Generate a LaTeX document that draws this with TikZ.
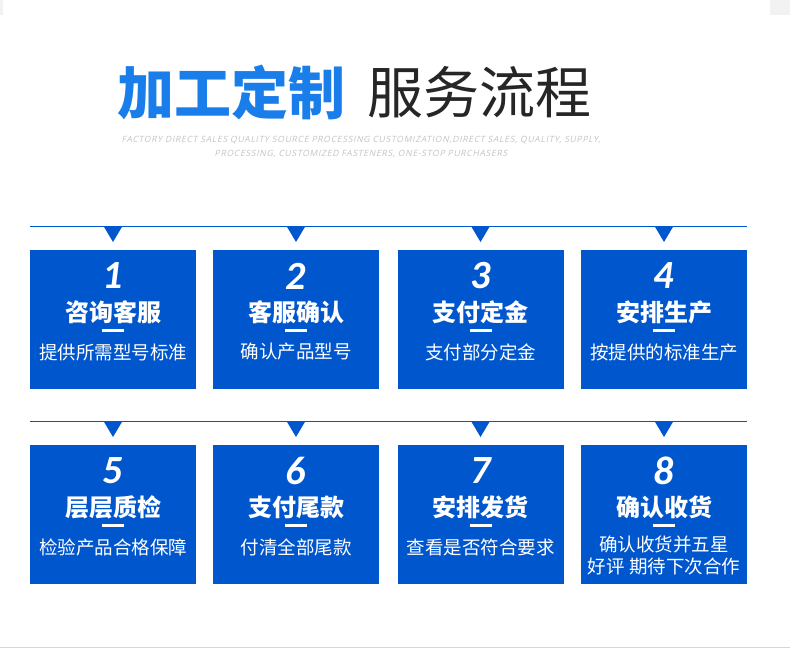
\documentclass[tikz,border=0pt]{standalone}
\usepackage{fontspec}
\newfontfamily\cjk{Noto Sans CJK SC}
\newfontfamily\digitfont{Carlito}
\newfontfamily\engfont{Open Sans}[FakeSlant=0.22,LetterSpace=8]
\definecolor{boxblue}{HTML}{0056CC}
\definecolor{titleblue}{HTML}{1A7EEA}
\definecolor{titledark}{HTML}{262626}
\definecolor{enggray}{HTML}{C4C4C4}
\definecolor{cornergray}{HTML}{F2F2F2}
\definecolor{bottomline}{HTML}{D0D8E4}
\tikzset{
  stepbox/.style={fill=boxblue, minimum width=166pt, minimum height=139pt, inner sep=0pt, anchor=north},
  numtext/.style={text=white, font=\digitfont\bfseries\itshape\fontsize{40}{40}\selectfont, inner sep=0pt},
  headtext/.style={text=white, font=\cjk\bfseries\fontsize{24}{24}\selectfont, inner sep=0pt},
  subtext/.style={text=white, font=\cjk\fontsize{18.5}{22}\selectfont, inner sep=0pt, align=center},
  dashbar/.style={white, line width=3pt},
  rowline/.style={boxblue, line width=1.2pt},
  marker/.style={fill=boxblue}
}
\begin{document}
\begin{tikzpicture}[x=1pt,y=-1pt]
\useasboundingbox (0,0) rectangle (790,648);
\fill[white] (0,0) rectangle (790,648);
\fill[cornergray] (0,0) rectangle (3,15);
\fill[cornergray] (770,0) rectangle (790,15);
\fill[bottomline] (0,646.5) rectangle (790,648);
% title
\node[inner sep=0pt, anchor=east, text=titleblue, font=\cjk\bfseries\fontsize{57}{57}\selectfont] (t1) at (346,92) {加工定制};
\node[inner sep=0pt, anchor=west, text=titledark, font=\cjk\fontsize{56}{56}\selectfont] (t2) at (367,92) {服务流程};
\node[inner sep=0pt, text=enggray, font=\engfont\fontsize{8.6}{14.5}\selectfont, align=center] (eng) at (361,147)
 {FACTORY DIRECT SALES QUALITY SOURCE PROCESSING CUSTOMIZATION,DIRECT SALES, QUALITY, SUPPLY,\\PROCESSING, CUSTOMIZED FASTENERS, ONE-STOP PURCHASERS};
% row lines
\coordinate (l1a) at (30,226.5); \coordinate (l1b) at (747,226.5);
\coordinate (l2a) at (30,421.5); \coordinate (l2b) at (747,421.5);
\draw[rowline] (l1a) -- (l1b);
\draw[rowline] (l2a) -- (l2b);
% boxes
\foreach \n/\cx/\top/\head in {
 1/113/250/咨询客服,
 2/296/250/客服确认,
 3/480.5/250/支付定金,
 4/664/250/安排生产,
 5/113/445/层层质检,
 6/296/445/支付尾款,
 7/480.5/445/安排发货,
 8/664/445/确认收货}{
  \node[stepbox] (b\n) at (\cx,\top) {};
  \coordinate (tri\n) at (\cx,\top-8);
  \fill[marker] ([xshift=-9.5pt,yshift=16pt]tri\n) -- ([xshift=9.5pt,yshift=16pt]tri\n) -- (tri\n) -- cycle;
  \node[numtext] (n\n) at (\cx,\top+26) {\n};
  \node[headtext] (h\n) at (\cx,\top+62) {\head};
  \coordinate (da\n) at (\cx-11,\top+80.5);
  \coordinate (db\n) at (\cx+11,\top+80.5);
  \draw[dashbar] (da\n) -- (db\n);
}
\foreach \n/\cx/\top/\sub in {
 1/113/250/提供所需型号标准,
 2/296/250/确认产品型号,
 3/480.5/250/支付部分定金,
 4/664/250/按提供的标准生产,
 5/113/445/检验产品合格保障,
 6/296/445/付清全部尾款,
 7/480.5/445/查看是否符合要求}{
  \node[subtext] (s\n) at (\cx,\top+102) {\sub};
}
\node[subtext, anchor=north] (s8) at (664,445+91) {确认收货并五星\\好评 期待下次合作};
\end{tikzpicture}
\end{document}
